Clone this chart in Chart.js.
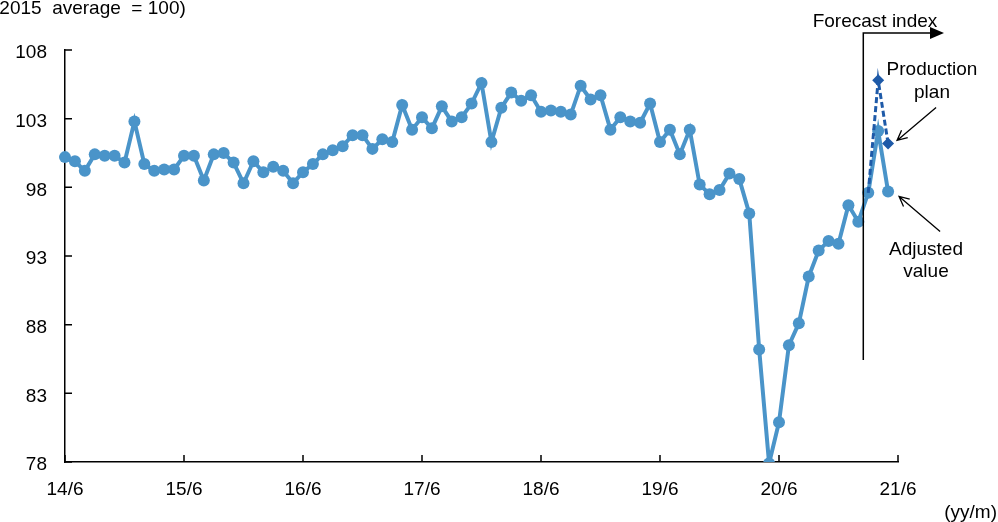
<!DOCTYPE html>
<html>
<head>
<meta charset="utf-8">
<script src="https://cdn.jsdelivr.net/npm/chart.js@4.4.1/dist/chart.umd.min.js"></script>
<style>
  html, body { margin: 0; padding: 0; background: #fff; overflow: hidden; }
  #wrap { width: 998px; height: 522px; position: relative; }
</style>
</head>
<body>
<div id="wrap"><canvas id="c" width="998" height="522"></canvas></div>
<script>
// Monthly categories from 14/6 to 21/6 (yy/m)
const firstYear = 14, firstMonth = 6, monthCount = 85;
const categories = [];
for (let i = 0; i < monthCount; i++) {
  const m = (firstMonth - 1 + i) % 12 + 1;
  const y = firstYear + Math.floor((firstMonth - 1 + i) / 12);
  categories.push(y + '/' + m);
}
const tickLabels = ['14/6', '15/6', '16/6', '17/6', '18/6', '19/6', '20/6', '21/6'];
const yTicks = [78, 83, 88, 93, 98, 103, 108];

// Seasonally adjusted index, 14/6 .. 21/5 (21/3 onward: forecast)
const adjustedValue = [
  100.2, 99.9, 99.2, 100.4, 100.3, 100.3, 99.8, 102.8, 99.7, 99.2, 99.3, 99.3,
  100.3, 100.3, 98.5, 100.4, 100.5, 99.8, 98.3, 99.9, 99.1, 99.5, 99.2, 98.3,
  99.1, 99.7, 100.4, 100.7, 101.0, 101.8, 101.8, 100.8, 101.5, 101.3, 104.0, 102.2,
  103.1, 102.3, 103.9, 102.8, 103.1, 104.1, 105.6, 101.3, 103.8, 104.9, 104.3, 104.7,
  103.5, 103.6, 103.5, 103.3, 105.4, 104.4, 104.7, 102.2, 103.1, 102.8, 102.7, 104.1,
  101.3, 102.2, 100.4, 102.2, 98.2, 97.5, 97.8, 99.0, 98.6, 96.1, 86.2, 77.9,
  80.9, 86.5, 88.1, 91.5, 93.4, 94.1, 93.9, 96.7, 95.5, 97.6, 102.1, 97.7
];

// Production plan (forecast survey)
const planMonths = ['21/3', '21/4', '21/5'];
const planValues = [97.6, 105.8, 101.2];

const FONT = '"Liberation Sans", Arial, sans-serif';
const lineBlue = '#4A94C9';
const planBlue = '#1E5AA8';

function arrowOpen(ctx, x0, y0, x1, y1) {
  const a = Math.atan2(y1 - y0, x1 - x0), L = 11, s = 0.45;
  ctx.beginPath();
  ctx.moveTo(x0, y0); ctx.lineTo(x1, y1);
  ctx.moveTo(x1 - L * Math.cos(a - s), y1 - L * Math.sin(a - s));
  ctx.lineTo(x1, y1);
  ctx.lineTo(x1 - L * Math.cos(a + s), y1 - L * Math.sin(a + s));
  ctx.stroke();
}

const decorations = {
  id: 'decorations',
  afterDraw(chart) {
    const { ctx, chartArea: ca, scales: { x, y } } = chart;
    ctx.save();
    ctx.strokeStyle = '#000';
    ctx.lineWidth = 1.5;
    // inward tick marks
    ctx.beginPath();
    yTicks.forEach(v => { const py = y.getPixelForValue(v); ctx.moveTo(ca.left, py); ctx.lineTo(ca.left + 7, py); });
    tickLabels.forEach(l => { const px = x.getPixelForValue(categories.indexOf(l)); ctx.moveTo(px, ca.bottom); ctx.lineTo(px, ca.bottom - 7); });
    ctx.stroke();

    ctx.fillStyle = '#000';
    ctx.font = '19px ' + FONT;
    ctx.textBaseline = 'alphabetic';
    ctx.textAlign = 'left';
    ctx.fillText('(2015  average  = 100)', -7, 14);
    ctx.textAlign = 'right';
    ctx.fillText('(yy/m)', 997, 518);

    // forecast boundary with arrow
    const i21_3 = categories.indexOf('21/3');
    const fx = (x.getPixelForValue(i21_3 - 1) + x.getPixelForValue(i21_3)) / 2;
    ctx.lineWidth = 1.5;
    ctx.beginPath();
    ctx.moveTo(fx, 360); ctx.lineTo(fx, 33); ctx.lineTo(931, 33);
    ctx.stroke();
    ctx.beginPath();
    ctx.moveTo(944, 33); ctx.lineTo(930, 27); ctx.lineTo(930, 39); ctx.closePath();
    ctx.fill();
    ctx.textAlign = 'center';
    ctx.fillText('Forecast index', 875, 27);

    // callouts
    const last = categories.indexOf('21/5');
    const lx = x.getPixelForValue(last);
    const planY = y.getPixelForValue(planValues[2]);
    const adjY = y.getPixelForValue(adjustedValue[last]);
    ctx.lineWidth = 1.3;
    arrowOpen(ctx, lx + 48, planY - 36, lx + 9, planY - 3);
    arrowOpen(ctx, lx + 52, adjY + 40, lx + 11, adjY + 5);
    ctx.fillText('Production', 932, 75);
    ctx.fillText('plan', 932, 98);
    ctx.fillText('Adjusted', 926, 255);
    ctx.fillText('value', 926, 277);
    ctx.restore();
  }
};

new Chart(document.getElementById('c'), {
  type: 'line',
  data: {
    labels: categories,
    datasets: [
      {
        label: 'Adjusted value',
        data: adjustedValue,
        borderColor: lineBlue,
        backgroundColor: lineBlue,
        borderWidth: 4,
        pointRadius: 6,
        pointHoverRadius: 6,
        pointBorderWidth: 0,
        tension: 0,
        order: 2
      },
      {
        label: 'Production plan',
        data: planMonths.map((m, i) => ({ x: m, y: planValues[i] })),
        borderColor: planBlue,
        backgroundColor: planBlue,
        borderWidth: 3,
        borderDash: [6, 3],
        pointStyle: 'rectRot',
        pointRadius: [0, 6, 6],
        pointHoverRadius: [0, 6, 6],
        pointBorderWidth: 0,
        tension: 0,
        order: 1
      }
    ]
  },
  options: {
    responsive: false,
    animation: false,
    devicePixelRatio: 1,
    layout: { padding: { top: 50, right: 100, left: 0, bottom: 0 } },
    plugins: { legend: { display: false }, tooltip: { enabled: false }, title: { display: false } },
    scales: {
      x: {
        type: 'category',
        offset: false,
        grid: { display: true, drawOnChartArea: false, drawTicks: false },
        border: { display: true, color: '#000', width: 1.5 },
        ticks: {
          autoSkip: false,
          maxRotation: 0,
          padding: 16,
          color: '#000',
          font: { family: FONT, size: 19 },
          callback: function (v, i) { const l = categories[i]; return tickLabels.includes(l) ? l : ''; }
        },
        afterFit(s) { s.height = 60; }
      },
      y: {
        min: 78,
        max: 108,
        grid: { display: true, drawOnChartArea: false, drawTicks: false },
        border: { display: true, color: '#000', width: 1.5 },
        ticks: {
          stepSize: 5,
          padding: 18,
          labelOffset: 3,
          color: '#000',
          font: { family: FONT, size: 19 }
        },
        afterFit(s) { s.width = 65; }
      }
    }
  },
  plugins: [decorations]
});
</script>
</body>
</html>
